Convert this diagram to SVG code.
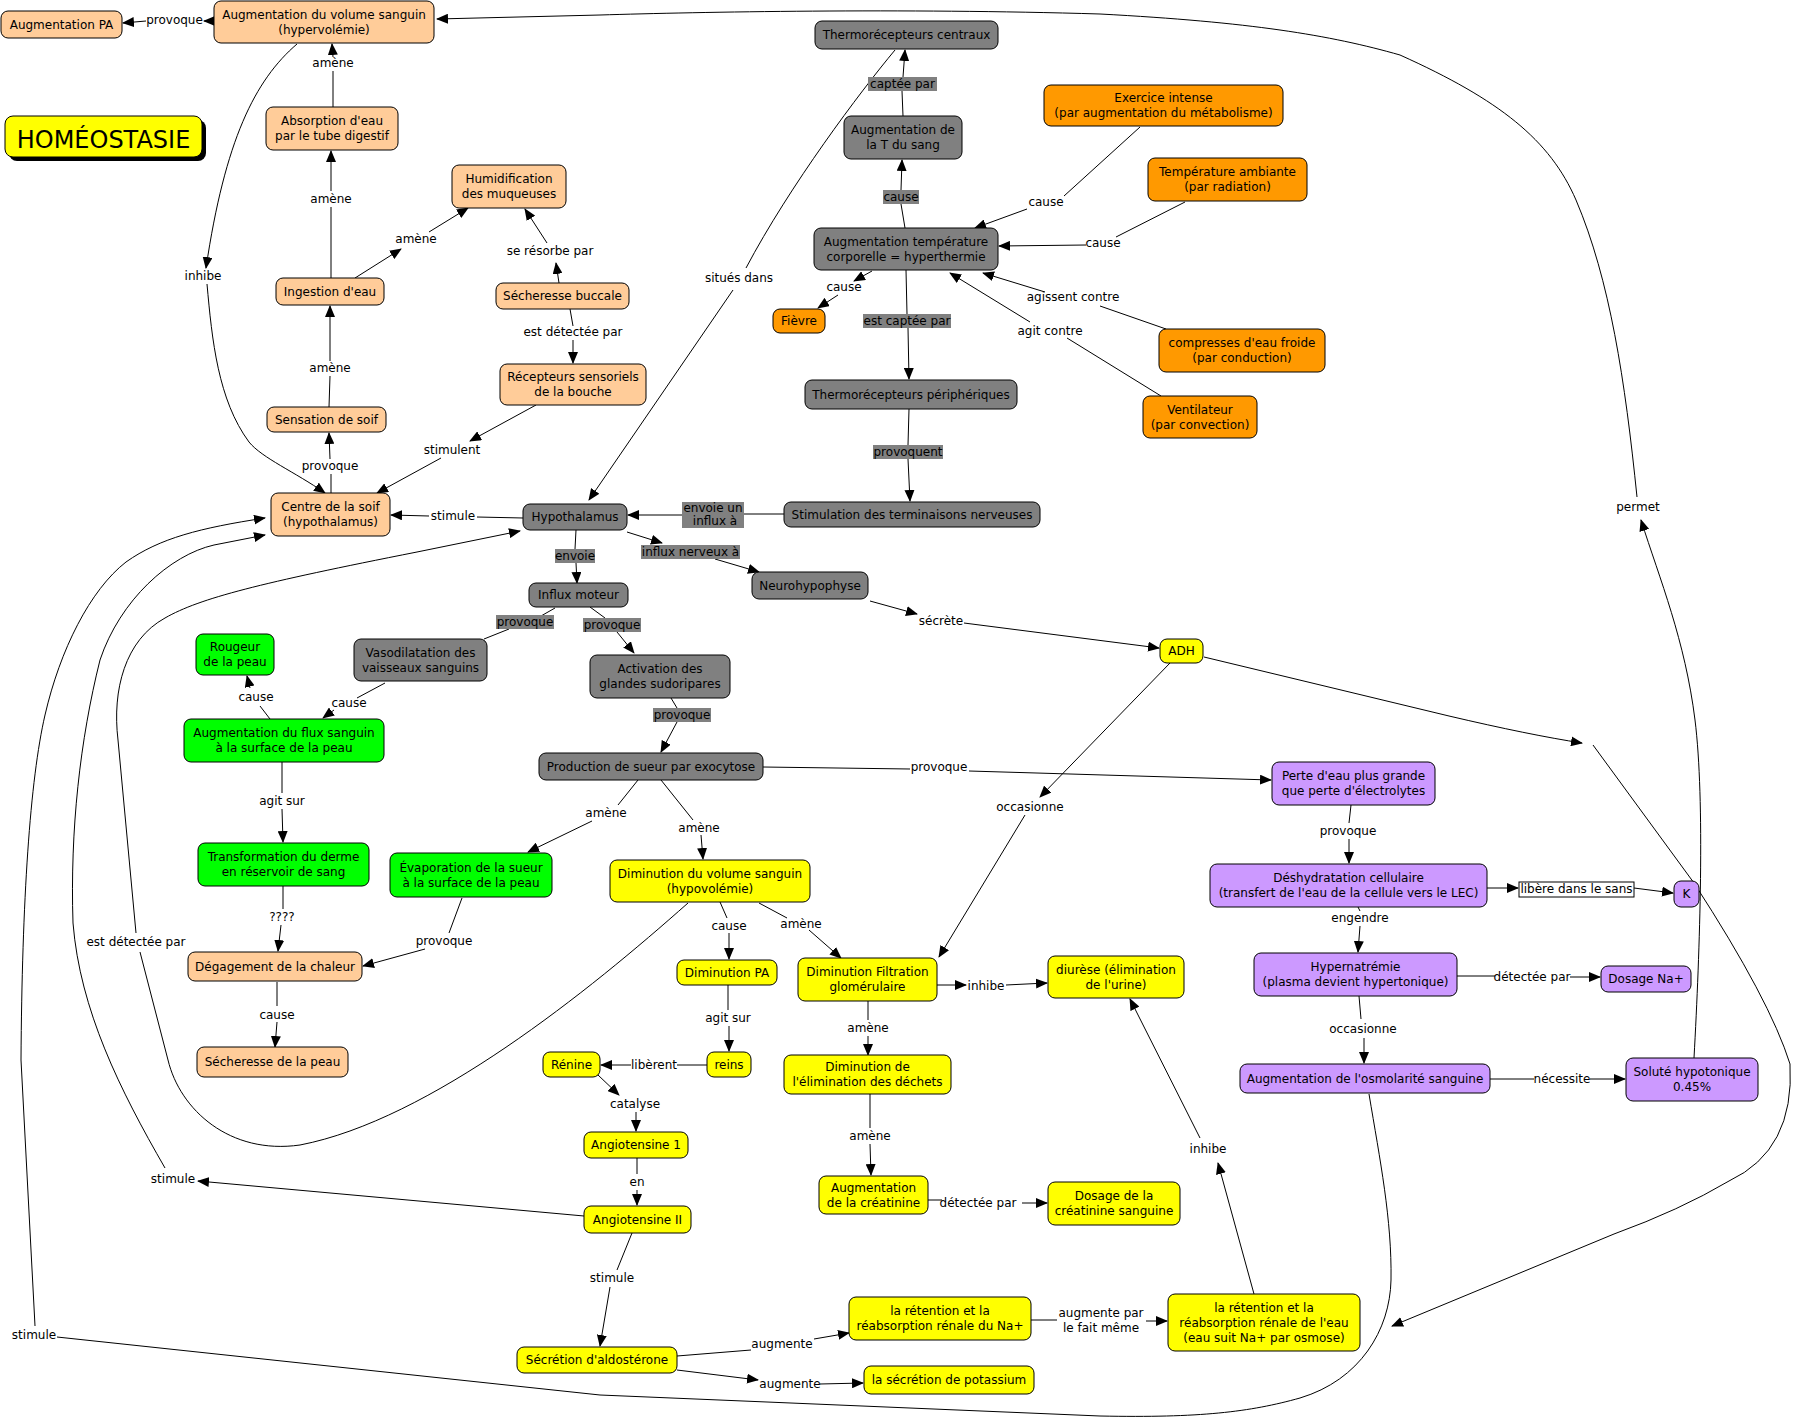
<svg xmlns="http://www.w3.org/2000/svg" width="1793" height="1424" viewBox="0 0 1793 1424">
<style>
text{font-family:"DejaVu Sans",Verdana,sans-serif;font-size:12px;fill:#000;text-anchor:middle}
.n rect{stroke:#000;stroke-width:1}
.pe rect{fill:#FFCC99}.gr rect{fill:#808080}.or rect{fill:#FF9900}.gn rect{fill:#00FF00}.ye rect{fill:#FFFF00}.pu rect{fill:#CC99FF}
#connectors path{fill:none;stroke:#000;stroke-width:1}
#connectors path.a{marker-end:url(#ar)}
.glb{fill:#808080}
</style>
<defs>
<marker id="ar" markerWidth="12" markerHeight="10" refX="11" refY="5" orient="auto" markerUnits="userSpaceOnUse"><path d="M0,0 L12,5 L0,10 z" fill="#000"/></marker>
</defs>
<rect width="1793" height="1424" fill="#fff"/>

<g id="connectors">
<path class="a" d="M214,21 L204,21"/><path class="a" d="M146,21 L123,23"/>
<path d="M333,107 L333,71"/><path class="a" d="M333,57 L332,44"/>
<path d="M331,278 L331,207"/><path class="a" d="M331,191 L331,151"/>
<path class="a" d="M355,278 L401,249"/><path class="a" d="M429,232 L468,208"/>
<path class="a" d="M559,283 L556,263"/><path class="a" d="M547,243 L525,209"/>
<path d="M570,309 L573,326"/><path class="a" d="M573,340 L573,363"/>
<path d="M329,407 L330,376"/><path class="a" d="M330,361 L330,306"/>
<path d="M331,493 L331,474"/><path class="a" d="M330,459 L329,433"/>
<path class="a" d="M536,405 L470,441"/><path class="a" d="M441,458 L377,493"/>
<path d="M523,518 L477,517"/><path class="a" d="M429,516 L391,515"/>
<path class="a" d="M297,44 C255,80 225,140 206,268"/><path class="a" d="M207,284 C212,340 218,400 249,442 C262,458 295,472 325,493"/>
<path d="M895,50 C860,92 790,185 746,268"/><path class="a" d="M733,290 L589,500"/>
<path d="M903,116 L902,91"/><path class="a" d="M903,77 L905,50"/>
<path d="M905,228 L901,204"/><path class="a" d="M901,190 L902,160"/>
<path d="M1140,127 L1064,196"/><path class="a" d="M1027,209 L975,228"/>
<path d="M1185,202 L1116,237"/><path class="a" d="M1086,245 L999,246"/>
<path class="a" d="M872,271 L854,281"/><path class="a" d="M838,295 L818,308"/>
<path d="M906,270 L907,314"/><path class="a" d="M908,328 L909,379"/>
<path d="M1166,329 L1100,306"/><path class="a" d="M1045,292 L983,273"/>
<path d="M1161,396 L1067,338"/><path class="a" d="M1030,322 L950,273"/>
<path d="M909,409 L908,445"/><path class="a" d="M908,459 L910,501"/>
<path d="M784,514 L744,514"/><path class="a" d="M682,515 L628,515"/>
<path d="M576,530 L575,549"/><path class="a" d="M576,563 L577,583"/>
<path class="a" d="M627,532 L662,543"/><path class="a" d="M715,559 L759,572"/>
<path class="a" d="M870,601 L917,614"/><path class="a" d="M964,623 L1159,648"/>
<path class="a" d="M1170,663 L1040,797"/><path class="a" d="M1025,815 L939,957"/>
<path class="a" d="M1204,657 L1449,716 Q1530,735 1582,743"/>
<path class="a" d="M1593,745 L1694,883 Q1770,1000 1790,1064 Q1795,1150 1729,1181 Q1680,1210 1614,1234 L1392,1326"/>
<path d="M555,608 L541,616"/><path d="M509,629 L484,639"/>
<path d="M590,607 L605,618"/><path class="a" d="M617,632 L634,653"/>
<path d="M385,683 L357,698"/><path class="a" d="M334,710 L323,718"/>
<path d="M270,719 L260,706"/><path class="a" d="M250,688 L247,676"/>
<path d="M282,762 L282,793"/><path class="a" d="M282,809 L283,842"/>
<path d="M283,886 L283,909"/><path class="a" d="M281,925 L278,951"/>
<path d="M462,898 L449,933"/><path class="a" d="M425,949 L363,966"/>
<path d="M277,982 L277,1006"/><path class="a" d="M277,1022 L275,1047"/>
<path d="M671,698 L677,708"/><path class="a" d="M677,722 L661,752"/>
<path d="M638,780 L618,805"/><path class="a" d="M592,821 L528,852"/>
<path d="M661,780 L693,820"/><path class="a" d="M701,835 L703,859"/>
<path d="M763,767 L910,769"/><path class="a" d="M969,771 L1271,780"/>
<path d="M720,902 L727,918"/><path class="a" d="M729,933 L729,959"/>
<path d="M759,903 L787,918"/><path class="a" d="M809,930 L841,958"/>
<path d="M688,903 C590,990 430,1120 300,1145 C230,1155 180,1110 168,1060 L140,952"/>
<path class="a" d="M136,933 L118,740 C112,690 125,640 165,618 C200,598 260,583 417,552 L520,531"/>
<path d="M728,985 L728,1010"/><path class="a" d="M729,1026 L729,1051"/>
<path d="M707,1065 L677,1065"/><path class="a" d="M631,1065 L601,1065"/>
<path class="a" d="M598,1075 L619,1095"/><path class="a" d="M636,1112 L636,1131"/>
<path d="M637,1158 L637,1174"/><path class="a" d="M637,1190 L637,1205"/>
<path d="M632,1233 L617,1270"/><path class="a" d="M610,1287 L600,1346"/>
<path class="a" d="M584,1216 L198,1181"/>
<path class="a" d="M165,1168 C120,1090 80,1010 73,923 C70,830 80,740 100,660 C120,600 170,555 214,545 L265,535"/>
<path d="M1369,1094 C1380,1160 1392,1220 1391,1280 C1390,1330 1360,1380 1300,1398 C1250,1412 1200,1418 1100,1416 L600,1395 L57,1337"/>
<path class="a" d="M35,1326 L21,1060 C22,900 30,780 45,715 C60,650 90,590 126,562 C160,538 200,528 265,518"/>
<path class="a" d="M937,985 L966,985"/><path class="a" d="M1006,985 L1047,983"/>
<path d="M868,1001 L868,1020"/><path class="a" d="M868,1036 L868,1055"/>
<path d="M870,1094 L870,1128"/><path class="a" d="M870,1144 L871,1175"/>
<path d="M928,1200 L942,1200"/><path class="a" d="M1022,1203 L1047,1203"/>
<path d="M677,1356 L751,1350"/><path class="a" d="M814,1339 L849,1333"/>
<path class="a" d="M677,1370 L758,1380"/><path class="a" d="M820,1384 L863,1383"/>
<path d="M1031,1320 L1057,1320"/><path class="a" d="M1146,1321 L1167,1321"/>
<path class="a" d="M1254,1294 L1218,1163"/><path class="a" d="M1200,1138 L1130,999"/>
<path d="M1351,805 L1349,823"/><path class="a" d="M1349,839 L1349,863"/>
<path class="a" d="M1487,888 L1518,888"/><path class="a" d="M1634,888 L1673,893"/>
<path d="M1358,907 L1360,911"/><path class="a" d="M1360,926 L1358,952"/>
<path d="M1457,976 L1495,976"/><path class="a" d="M1570,977 L1600,977"/>
<path d="M1359,996 L1361,1019"/><path class="a" d="M1364,1038 L1364,1063"/>
<path d="M1490,1079 L1534,1079"/><path class="a" d="M1590,1079 L1625,1079"/>
<path class="a" d="M1694,1058 C1700,950 1705,800 1695,720 C1685,640 1660,580 1641,520"/>
<path class="a" d="M1637,497 C1625,380 1610,280 1576,200 C1550,140 1500,100 1400,55 C1330,35 1250,22 1100,14 C900,8 700,12 600,15 L437,19"/>
</g>

<g id="labels">
<rect class="glb" x="868" y="77" width="69" height="14"/><text x="902.5" y="88">captée par</text>
<rect class="glb" x="883" y="190" width="36" height="14"/><text x="901" y="201">cause</text>
<rect class="glb" x="863" y="314" width="88" height="14"/><text x="907" y="325">est captée par</text>
<rect class="glb" x="873" y="445" width="70" height="14"/><text x="908" y="456">provoquent</text>
<rect class="glb" x="682" y="502" width="62" height="26"/><text x="713" y="512">envoie un</text><text x="715" y="525">influx à</text>
<rect class="glb" x="555" y="549" width="40" height="14"/><text x="575" y="560">envoie</text>
<rect class="glb" x="641" y="545" width="99" height="14"/><text x="690.5" y="556">influx nerveux à</text>
<rect class="glb" x="496" y="615" width="58" height="14"/><text x="525" y="626">provoque</text>
<rect class="glb" x="583" y="618" width="58" height="14"/><text x="612" y="629">provoque</text>
<rect class="glb" x="653" y="708" width="58" height="14"/><text x="682" y="719">provoque</text>
<rect x="1519" y="882" width="115" height="15" fill="#fff" stroke="#000" stroke-width="1"/><text x="1576.5" y="893">libère dans le sans</text>
<text x="174.5" y="24">provoque</text>
<text x="333" y="67">amène</text>
<text x="331" y="203">amène</text>
<text x="416" y="243">amène</text>
<text x="550" y="255">se résorbe par</text>
<text x="573" y="336">est détectée par</text>
<text x="330" y="372">amène</text>
<text x="330" y="470">provoque</text>
<text x="452" y="454">stimulent</text>
<text x="453" y="520">stimule</text>
<text x="203" y="280">inhibe</text>
<text x="739" y="282">situés dans</text>
<text x="1046" y="206">cause</text>
<text x="1103" y="247">cause</text>
<text x="844" y="291">cause</text>
<text x="1073" y="301">agissent contre</text>
<text x="1050" y="335">agit contre</text>
<text x="941" y="625">sécrète</text>
<text x="1030" y="811">occasionne</text>
<text x="349" y="707">cause</text>
<text x="256" y="701">cause</text>
<text x="282" y="805">agit sur</text>
<text x="282" y="921">????</text>
<text x="444" y="945">provoque</text>
<text x="277" y="1019">cause</text>
<text x="606" y="817">amène</text>
<text x="699" y="832">amène</text>
<text x="939" y="771">provoque</text>
<text x="729" y="930">cause</text>
<text x="801" y="928">amène</text>
<text x="136" y="946">est détectée par</text>
<text x="728" y="1022">agit sur</text>
<text x="654" y="1069">libèrent</text>
<text x="635" y="1108">catalyse</text>
<text x="637" y="1186">en</text>
<text x="612" y="1282">stimule</text>
<text x="173" y="1183">stimule</text>
<text x="34" y="1339">stimule</text>
<text x="986" y="990">inhibe</text>
<text x="868" y="1032">amène</text>
<text x="870" y="1140">amène</text>
<text x="978" y="1207">détectée par</text>
<text x="782" y="1348">augmente</text>
<text x="790" y="1388">augmente</text>
<text x="1101" y="1317">augmente par</text><text x="1101" y="1332">le fait même</text>
<text x="1208" y="1153">inhibe</text>
<text x="1348" y="835">provoque</text>
<text x="1360" y="922">engendre</text>
<text x="1532" y="981">détectée par</text>
<text x="1363" y="1033">occasionne</text>
<text x="1562" y="1083">nécessite</text>
<text x="1638" y="511">permet</text>
</g>

<g id="homeostasie">
<rect x="9" y="120" width="197" height="41" rx="8" fill="#000"/>
<rect x="5" y="116" width="197" height="41" rx="8" fill="#FFFF00" stroke="#000"/>
<text x="103.5" y="148" style="font-size:24px">HOMÉOSTASIE</text>
</g>

<g id="pa" class="n pe"><rect x="1" y="11" width="121" height="27" rx="7"/><text x="61.5" y="28.5">Augmentation PA</text></g>
<g id="hyper" class="n pe"><rect x="214" y="1" width="220" height="42" rx="7"/><text x="324" y="18.5">Augmentation du volume sanguin</text><text x="324" y="33.5">(hypervolémie)</text></g>
<g id="absorp" class="n pe"><rect x="266" y="107" width="132" height="43" rx="7"/><text x="332" y="125">Absorption d'eau</text><text x="332" y="140">par le tube digestif</text></g>
<g id="humid" class="n pe"><rect x="452" y="165" width="114" height="43" rx="7"/><text x="509" y="183">Humidification</text><text x="509" y="198">des muqueuses</text></g>
<g id="ingest" class="n pe"><rect x="276" y="278" width="108" height="27" rx="7"/><text x="330" y="295.5">Ingestion d'eau</text></g>
<g id="secbuc" class="n pe"><rect x="496" y="283" width="133" height="26" rx="7"/><text x="562.5" y="300">Sécheresse buccale</text></g>
<g id="recept" class="n pe"><rect x="500" y="364" width="146" height="41" rx="7"/><text x="573" y="381">Récepteurs sensoriels</text><text x="573" y="396">de la bouche</text></g>
<g id="sens" class="n pe"><rect x="267" y="407" width="119" height="25" rx="7"/><text x="326.5" y="423.5">Sensation de soif</text></g>
<g id="centre" class="n pe"><rect x="271" y="493" width="119" height="43" rx="7"/><text x="330.5" y="511">Centre de la soif</text><text x="330.5" y="526">(hypothalamus)</text></g>
<g id="degag" class="n pe"><rect x="188" y="952" width="174" height="29" rx="7"/><text x="275" y="970.5">Dégagement de la chaleur</text></g>
<g id="secpeau" class="n pe"><rect x="197" y="1047" width="151" height="30" rx="7"/><text x="272.5" y="1066">Sécheresse de la peau</text></g>

<g id="thermoc" class="n gr"><rect x="815" y="21" width="183" height="28" rx="7"/><text x="906.5" y="39">Thermorécepteurs centraux</text></g>
<g id="tsang" class="n gr"><rect x="844" y="116" width="118" height="43" rx="7"/><text x="903" y="134">Augmentation de</text><text x="903" y="149">la T du sang</text></g>
<g id="hyperth" class="n gr"><rect x="814" y="228" width="184" height="42" rx="7"/><text x="906" y="245.5">Augmentation température</text><text x="906" y="260.5">corporelle = hyperthermie</text></g>
<g id="thermop" class="n gr"><rect x="805" y="380" width="212" height="29" rx="7"/><text x="911" y="398.5">Thermorécepteurs périphériques</text></g>
<g id="stimul" class="n gr"><rect x="784" y="502" width="256" height="25" rx="7"/><text x="912" y="518.5">Stimulation des terminaisons nerveuses</text></g>
<g id="hypoth" class="n gr"><rect x="523" y="504" width="104" height="26" rx="7"/><text x="575" y="521">Hypothalamus</text></g>
<g id="influx" class="n gr"><rect x="529" y="583" width="99" height="24" rx="7"/><text x="578.5" y="599">Influx moteur</text></g>
<g id="vasod" class="n gr"><rect x="354" y="639" width="133" height="42" rx="7"/><text x="420.5" y="656.5">Vasodilatation des</text><text x="420.5" y="671.5">vaisseaux sanguins</text></g>
<g id="neuro" class="n gr"><rect x="752" y="572" width="116" height="27" rx="7"/><text x="810" y="589.5">Neurohypophyse</text></g>
<g id="activ" class="n gr"><rect x="590" y="655" width="140" height="43" rx="7"/><text x="660" y="673">Activation des</text><text x="660" y="688">glandes sudoripares</text></g>
<g id="prod" class="n gr"><rect x="539" y="753" width="224" height="27" rx="7"/><text x="651" y="770.5">Production de sueur par exocytose</text></g>

<g id="exerc" class="n or"><rect x="1044" y="85" width="239" height="41" rx="7"/><text x="1163.5" y="102">Exercice intense</text><text x="1163.5" y="117">(par augmentation du métabolisme)</text></g>
<g id="tamb" class="n or"><rect x="1148" y="158" width="159" height="43" rx="7"/><text x="1227.5" y="176">Température ambiante</text><text x="1227.5" y="191">(par radiation)</text></g>
<g id="fievre" class="n or"><rect x="773" y="309" width="52" height="24" rx="7"/><text x="799" y="325">Fièvre</text></g>
<g id="compr" class="n or"><rect x="1159" y="329" width="166" height="43" rx="7"/><text x="1242" y="347">compresses d'eau froide</text><text x="1242" y="362">(par conduction)</text></g>
<g id="venti" class="n or"><rect x="1143" y="396" width="114" height="42" rx="7"/><text x="1200" y="413.5">Ventilateur</text><text x="1200" y="428.5">(par convection)</text></g>

<g id="rougeur" class="n gn"><rect x="196" y="634" width="78" height="41" rx="7"/><text x="235" y="651">Rougeur</text><text x="235" y="666">de la peau</text></g>
<g id="flux" class="n gn"><rect x="184" y="719" width="200" height="43" rx="7"/><text x="284" y="737">Augmentation du flux sanguin</text><text x="284" y="752">à la surface de la peau</text></g>
<g id="transf" class="n gn"><rect x="198" y="843" width="171" height="43" rx="7"/><text x="283.5" y="861">Transformation du derme</text><text x="283.5" y="876">en réservoir de sang</text></g>
<g id="evap" class="n gn"><rect x="390" y="853" width="162" height="44" rx="7"/><text x="471" y="871.5">Évaporation de la sueur</text><text x="471" y="886.5">à la surface de la peau</text></g>

<g id="adh" class="n ye"><rect x="1160" y="639" width="43" height="24" rx="7"/><text x="1181.5" y="655">ADH</text></g>
<g id="dimvol" class="n ye"><rect x="610" y="860" width="200" height="42" rx="7"/><text x="710" y="877.5">Diminution du volume sanguin</text><text x="710" y="892.5">(hypovolémie)</text></g>
<g id="dimpa" class="n ye"><rect x="677" y="960" width="100" height="25" rx="7"/><text x="727" y="976.5">Diminution PA</text></g>
<g id="filtr" class="n ye"><rect x="798" y="958" width="139" height="43" rx="7"/><text x="867.5" y="976">Diminution Filtration</text><text x="867.5" y="991">glomérulaire</text></g>
<g id="diur" class="n ye"><rect x="1048" y="956" width="136" height="42" rx="7"/><text x="1116" y="973.5">diurèse (élimination</text><text x="1116" y="988.5">de l'urine)</text></g>
<g id="reins" class="n ye"><rect x="707" y="1052" width="44" height="25" rx="7"/><text x="729" y="1068.5">reins</text></g>
<g id="renine" class="n ye"><rect x="543" y="1052" width="57" height="25" rx="7"/><text x="571.5" y="1068.5">Rénine</text></g>
<g id="dimelim" class="n ye"><rect x="784" y="1055" width="167" height="39" rx="7"/><text x="867.5" y="1071">Diminution de</text><text x="867.5" y="1086">l'élimination des déchets</text></g>
<g id="angio1" class="n ye"><rect x="584" y="1132" width="104" height="26" rx="7"/><text x="636" y="1149">Angiotensine 1</text></g>
<g id="angio2" class="n ye"><rect x="584" y="1206" width="107" height="27" rx="7"/><text x="637.5" y="1223.5">Angiotensine II</text></g>
<g id="creat" class="n ye"><rect x="819" y="1176" width="109" height="38" rx="7"/><text x="873.5" y="1191.5">Augmentation</text><text x="873.5" y="1206.5">de la créatinine</text></g>
<g id="dosc" class="n ye"><rect x="1048" y="1182" width="132" height="43" rx="7"/><text x="1114" y="1200">Dosage de la</text><text x="1114" y="1215">créatinine sanguine</text></g>
<g id="aldo" class="n ye"><rect x="517" y="1347" width="160" height="26" rx="7"/><text x="597" y="1364">Sécrétion d'aldostérone</text></g>
<g id="retna" class="n ye"><rect x="849" y="1297" width="182" height="43" rx="7"/><text x="940" y="1315">la rétention et la</text><text x="940" y="1330">réabsorption rénale du Na+</text></g>
<g id="retoeau" class="n ye"><rect x="1168" y="1294" width="192" height="57" rx="7"/><text x="1264" y="1311.5">la rétention et la</text><text x="1264" y="1326.5">réabsorption rénale de l'eau</text><text x="1264" y="1341.5">(eau suit Na+ par osmose)</text></g>
<g id="potas" class="n ye"><rect x="864" y="1366" width="170" height="28" rx="7"/><text x="949" y="1384">la sécrétion de potassium</text></g>

<g id="perte" class="n pu"><rect x="1272" y="762" width="163" height="43" rx="7"/><text x="1353.5" y="780">Perte d'eau plus grande</text><text x="1353.5" y="795">que perte d'électrolytes</text></g>
<g id="deshyd" class="n pu"><rect x="1210" y="864" width="277" height="43" rx="7"/><text x="1348.5" y="882">Déshydratation cellulaire</text><text x="1348.5" y="897">(transfert de l'eau de la cellule vers le LEC)</text></g>
<g id="k" class="n pu"><rect x="1674" y="881" width="25" height="26" rx="7"/><text x="1686.5" y="898">K</text></g>
<g id="hypern" class="n pu"><rect x="1254" y="953" width="203" height="43" rx="7"/><text x="1355.5" y="971">Hypernatrémie</text><text x="1355.5" y="986">(plasma devient hypertonique)</text></g>
<g id="dosna" class="n pu"><rect x="1601" y="966" width="90" height="26" rx="7"/><text x="1646" y="983">Dosage Na+</text></g>
<g id="osmol" class="n pu"><rect x="1240" y="1064" width="250" height="29" rx="7"/><text x="1365" y="1082.5">Augmentation de l'osmolarité sanguine</text></g>
<g id="solute" class="n pu"><rect x="1626" y="1058" width="132" height="43" rx="7"/><text x="1692" y="1076">Soluté hypotonique</text><text x="1692" y="1091">0.45%</text></g>
</svg>
